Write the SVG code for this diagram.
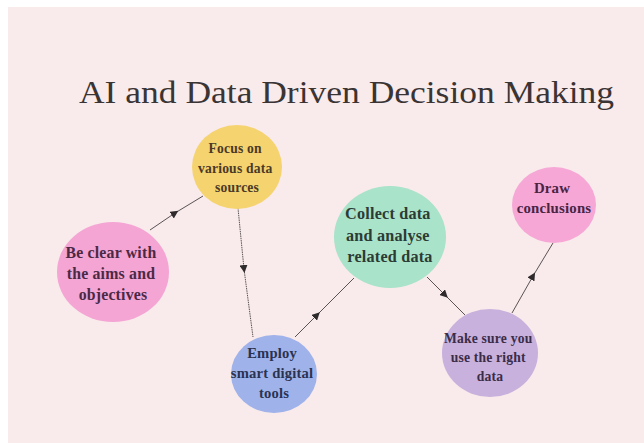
<svg xmlns="http://www.w3.org/2000/svg" width="644" height="443" viewBox="0 0 644 443">
  <defs>
    <marker id="tri" viewBox="0 0 10 10" refX="5" refY="5" markerWidth="8" markerHeight="8" markerUnits="userSpaceOnUse" orient="auto">
      <path d="M0,0 L10,5 L0,10 Z" fill="#2f2a2c"/>
    </marker>
  </defs>
  <style>
    .bg { fill: #fff; }
    .panel { fill: #f9eaeb; }
    .title { font-family: "Liberation Serif", "DejaVu Serif", serif; font-size: 31px; fill: #3a3434; }
    .lbl { font-family: "Liberation Serif", "DejaVu Serif", serif; font-weight: bold; text-anchor: middle; letter-spacing: 0.2px; }
    .edge { fill: none; stroke: #5a5355; stroke-width: 1; marker-mid: url(#tri); }
  </style>

  <rect class="bg" x="0" y="0" width="644" height="443"/>
  <rect class="panel" x="8" y="7" width="636" height="436"/>

  <text class="title" x="79" y="103" textLength="535" lengthAdjust="spacingAndGlyphs">AI and Data Driven Decision Making</text>

  <g id="connectors">
    <path class="edge" d="M150,230 L175,213 L203,196"/>
    <path class="edge" d="M238,208 L244,269 L253,337" stroke-dasharray="1.5 0.8"/>
    <path class="edge" d="M295,337 L317,315 L354,278"/>
    <path class="edge" d="M427,277 L445,295 L465,315"/>
    <path class="edge" d="M512,313 L533,276 L553,243"/>
  </g>

  <g id="focus">
    <ellipse cx="237" cy="167" rx="45" ry="42" fill="#f5d36f"/>
    <text class="lbl" font-size="13.6" fill="#4a3a28">
      <tspan x="237" y="153">Focus on</tspan>
      <tspan x="237" y="173">various data</tspan>
      <tspan x="237" y="192">sources</tspan>
    </text>
  </g>

  <g id="aims">
    <ellipse cx="113" cy="272" rx="56" ry="50" fill="#f4a5d4"/>
    <text class="lbl" font-size="15.8" fill="#4b2945">
      <tspan x="113" y="258">Be clear with</tspan>
      <tspan x="113" y="279">the aims and</tspan>
      <tspan x="113" y="300">objectives</tspan>
    </text>
  </g>

  <g id="collect">
    <ellipse cx="390" cy="237" rx="56" ry="51" fill="#a9e3c9"/>
    <text class="lbl" font-size="16.2" fill="#2c3b35">
      <tspan x="390" y="219">Collect data</tspan>
      <tspan x="390" y="241">and analyse</tspan>
      <tspan x="390" y="262">related data</tspan>
    </text>
  </g>

  <g id="tools">
    <ellipse cx="274" cy="374" rx="43" ry="39" fill="#9fb2ea"/>
    <text class="lbl" font-size="14.6" fill="#2b3250">
      <tspan x="274" y="358">Employ</tspan>
      <tspan x="274" y="378">smart digital</tspan>
      <tspan x="274" y="398">tools</tspan>
    </text>
  </g>

  <g id="rightdata">
    <ellipse cx="490" cy="353" rx="48" ry="44" fill="#c8b1dc"/>
    <text class="lbl" font-size="13.6" fill="#3b2c48">
      <tspan x="490" y="343">Make sure you</tspan>
      <tspan x="490" y="362">use the right</tspan>
      <tspan x="490" y="381">data</tspan>
    </text>
  </g>

  <g id="conclusions">
    <ellipse cx="554" cy="205" rx="42" ry="38" fill="#f6a7d6"/>
    <text class="lbl" font-size="14.8" fill="#4a2442">
      <tspan x="554" y="193">Draw</tspan>
      <tspan x="554" y="213">conclusions</tspan>
    </text>
  </g>
</svg>
